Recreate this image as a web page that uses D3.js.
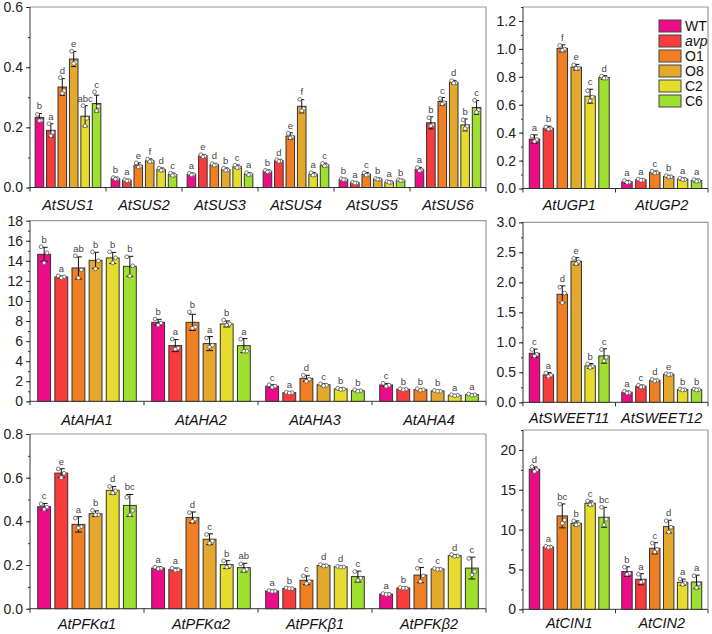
<!DOCTYPE html>
<html>
<head>
<meta charset="utf-8">
<script src="https://cdn.jsdelivr.net/npm/d3@7"></script>
<style>
  body { margin: 0; background: #fff; }
  svg { display: block; font-family: Arial, "Liberation Sans", sans-serif; }
</style>
</head>
<body>
<svg id="chart" width="712" height="634"></svg>
<script>
// Genotypes & colours
const lines = ["WT", "avp", "O1", "O8", "C2", "C6"];
const colors = ["#ec0c88", "#f83c3c", "#ef7f22", "#e4a92c", "#e6dc2e", "#9fe02f"];

// SUS panel
const susGenes = ["AtSUS1", "AtSUS2", "AtSUS3", "AtSUS4", "AtSUS5", "AtSUS6"];
const susMean = [
  [0.233, 0.190, 0.334, 0.427, 0.237, 0.279],
  [0.030, 0.024, 0.074, 0.089, 0.060, 0.043],
  [0.044, 0.105, 0.076, 0.060, 0.069, 0.045],
  [0.054, 0.089, 0.171, 0.270, 0.044, 0.075],
  [0.027, 0.016, 0.044, 0.028, 0.018, 0.024],
  [0.060, 0.215, 0.286, 0.350, 0.208, 0.266]
];
const susSd = [
  [0.013, 0.022, 0.028, 0.025, 0.035, 0.028],
  [0.004, 0.003, 0.008, 0.006, 0.005, 0.005],
  [0.004, 0.005, 0.004, 0.005, 0.006, 0.005],
  [0.004, 0.004, 0.011, 0.022, 0.006, 0.006],
  [0.003, 0.003, 0.006, 0.003, 0.003, 0.002],
  [0.007, 0.020, 0.013, 0.006, 0.020, 0.023]
];
const susLet = [
  ["b", "a", "d", "e", "abc", "c"],
  ["b", "a", "e", "f", "d", "c"],
  ["a", "e", "d", "b", "c", "a"],
  ["b", "d", "e", "f", "a", "c"],
  ["b", "a", "c", "b", "a", "b"],
  ["a", "b", "c", "d", "b", "c"]
];
const susDots = [
  [[0.243, 0.223, 0.222], [0.212, 0.183, 0.172], [0.365, 0.322, 0.313], [0.453, 0.416, 0.412], [0.272, 0.230, 0.205], [0.318, 0.270, 0.255]],
  [[0.033, 0.029, 0.028], [0.026, 0.023, 0.022], [0.082, 0.070, 0.068], [0.094, 0.087, 0.086], [0.064, 0.058, 0.057], [0.048, 0.041, 0.040]],
  [[0.047, 0.043, 0.042], [0.109, 0.104, 0.102], [0.079, 0.075, 0.074], [0.064, 0.058, 0.057], [0.074, 0.067, 0.066], [0.049, 0.044, 0.042]],
  [[0.057, 0.053, 0.052], [0.092, 0.088, 0.087], [0.180, 0.168, 0.165], [0.293, 0.262, 0.255], [0.049, 0.042, 0.041], [0.080, 0.073, 0.072]],
  [[0.029, 0.026, 0.026], [0.018, 0.015, 0.015], [0.049, 0.042, 0.041], [0.030, 0.027, 0.027], [0.020, 0.017, 0.017], [0.026, 0.023, 0.023]],
  [[0.066, 0.058, 0.056], [0.232, 0.208, 0.205], [0.296, 0.282, 0.278], [0.355, 0.348, 0.347], [0.225, 0.203, 0.196], [0.290, 0.258, 0.250]]
];

// UGP panel
const ugpGenes = ["AtUGP1", "AtUGP2"];
const ugpMean = [
  [0.354, 0.431, 1.004, 0.869, 0.661, 0.795],
  [0.048, 0.062, 0.115, 0.086, 0.067, 0.057]
];
const ugpSd = [
  [0.030, 0.015, 0.025, 0.020, 0.050, 0.013],
  [0.010, 0.006, 0.010, 0.008, 0.008, 0.010]
];
const ugpLet = [
  ["a", "b", "f", "e", "c", "d"],
  ["a", "a", "c", "b", "a", "a"]
];
const ugpDots = [
  [[0.375, 0.350, 0.337], [0.440, 0.428, 0.425], [1.025, 0.998, 0.990], [0.885, 0.862, 0.860], [0.700, 0.655, 0.628], [0.805, 0.790, 0.790]],
  [[0.056, 0.045, 0.043], [0.067, 0.060, 0.059], [0.123, 0.112, 0.110], [0.092, 0.084, 0.082], [0.073, 0.065, 0.063], [0.064, 0.055, 0.052]]
];

// AHA panel
const ahaGenes = ["AtAHA1", "AtAHA2", "AtAHA3", "AtAHA4"];
const ahaMean = [
  [14.65, 12.39, 13.29, 14.05, 14.29, 13.45],
  [7.87, 5.55, 7.87, 5.75, 7.71, 5.55],
  [1.50, 0.86, 2.29, 1.65, 1.23, 1.06],
  [1.63, 1.20, 1.16, 1.03, 0.60, 0.66]
];
const ahaSd = [
  [0.70, 0.10, 1.10, 0.80, 0.55, 1.00],
  [0.30, 0.60, 0.80, 0.70, 0.30, 0.70],
  [0.15, 0.05, 0.30, 0.10, 0.10, 0.10],
  [0.15, 0.05, 0.10, 0.05, 0.05, 0.06]
];
const ahaLet = [
  ["b", "a", "ab", "b", "b", "b"],
  ["b", "a", "b", "a", "b", "a"],
  ["c", "a", "d", "c", "b", "b"],
  ["c", "b", "b", "b", "a", "a"]
];
const ahaDots = [
  [[15.4, 14.8, 13.8], [12.5, 12.4, 12.3], [14.5, 13.1, 12.3], [14.9, 14.0, 13.2], [14.9, 14.3, 13.8], [14.4, 13.5, 12.5]],
  [[8.2, 7.8, 7.6], [6.2, 5.3, 5.2], [8.9, 7.4, 7.3], [6.3, 5.6, 5.4], [8.1, 7.7, 7.6], [6.2, 5.0, 5.0]],
  [[1.65, 1.50, 1.40], [0.90, 0.86, 0.83], [2.60, 2.20, 2.00], [1.75, 1.60, 1.55], [1.30, 1.22, 1.18], [1.15, 1.05, 1.00]],
  [[1.80, 1.60, 1.50], [1.25, 1.20, 1.15], [1.25, 1.15, 1.10], [1.08, 1.00, 1.00], [0.65, 0.60, 0.55], [0.72, 0.65, 0.60]]
];

// SWEET panel
const sweetGenes = ["AtSWEET11", "AtSWEET12"];
const sweetMean = [
  [0.817, 0.456, 1.80, 2.35, 0.606, 0.772],
  [0.167, 0.267, 0.367, 0.467, 0.211, 0.211]
];
const sweetSd = [
  [0.07, 0.04, 0.14, 0.06, 0.04, 0.12],
  [0.02, 0.02, 0.015, 0.01, 0.01, 0.01]
];
const sweetLet = [
  ["c", "a", "d", "e", "b", "c"],
  ["a", "c", "d", "e", "b", "b"]
];
const sweetDots = [
  [[0.88, 0.80, 0.77], [0.49, 0.45, 0.43], [1.92, 1.82, 1.66], [2.40, 2.34, 2.31], [0.64, 0.60, 0.58], [0.88, 0.75, 0.69]],
  [[0.185, 0.160, 0.155], [0.285, 0.260, 0.255], [0.380, 0.365, 0.355], [0.475, 0.465, 0.460], [0.220, 0.210, 0.205], [0.220, 0.210, 0.205]]
];

// PFK panel
const pfkGenes = ["AtPFKα1", "AtPFKα2", "AtPFKβ1", "AtPFKβ2"];
const pfkMean = [
  [0.467, 0.621, 0.386, 0.435, 0.542, 0.473],
  [0.186, 0.180, 0.418, 0.318, 0.202, 0.188],
  [0.081, 0.093, 0.130, 0.198, 0.192, 0.147],
  [0.067, 0.095, 0.154, 0.182, 0.243, 0.186]
];
const pfkSd = [
  [0.015, 0.020, 0.035, 0.013, 0.018, 0.050],
  [0.005, 0.006, 0.025, 0.025, 0.018, 0.020],
  [0.003, 0.003, 0.020, 0.005, 0.003, 0.025],
  [0.003, 0.003, 0.035, 0.003, 0.005, 0.050]
];
const pfkLet = [
  ["c", "e", "a", "b", "d", "bc"],
  ["a", "a", "d", "c", "b", "ab"],
  ["a", "b", "c", "d", "d", "c"],
  ["a", "b", "c", "c", "d", "c"]
];
const pfkDots = [
  [[0.480, 0.465, 0.455], [0.640, 0.620, 0.600], [0.415, 0.375, 0.370], [0.450, 0.430, 0.430], [0.560, 0.540, 0.530], [0.510, 0.450, 0.430]],
  [[0.190, 0.185, 0.183], [0.185, 0.178, 0.176], [0.440, 0.410, 0.400], [0.340, 0.310, 0.300], [0.220, 0.195, 0.190], [0.205, 0.180, 0.175]],
  [[0.083, 0.080, 0.079], [0.095, 0.092, 0.092], [0.150, 0.125, 0.115], [0.202, 0.197, 0.195], [0.194, 0.191, 0.190], [0.170, 0.140, 0.130]],
  [[0.069, 0.066, 0.065], [0.097, 0.094, 0.094], [0.185, 0.150, 0.125], [0.184, 0.181, 0.180], [0.248, 0.242, 0.240], [0.230, 0.170, 0.155]]
];

// CIN panel
const cinGenes = ["AtCIN1", "AtCIN2"];
const cinMean = [
  [17.57, 7.82, 11.72, 10.79, 13.30, 11.55],
  [4.73, 3.77, 7.66, 10.38, 3.39, 3.43]
];
const cinSd = [
  [0.30, 0.10, 1.50, 0.30, 0.30, 1.25],
  [0.60, 0.70, 0.70, 0.80, 0.40, 0.85]
];
const cinLet = [
  ["d", "a", "bc", "b", "c", "bc"],
  ["b", "a", "c", "d", "a", "a"]
];
const cinDots = [
  [[17.9, 17.5, 17.3], [7.9, 7.8, 7.75], [13.2, 11.2, 10.8], [11.1, 10.7, 10.6], [13.6, 13.2, 13.1], [12.8, 11.3, 10.6]],
  [[5.3, 4.5, 4.4], [4.4, 3.5, 3.4], [8.3, 7.5, 7.2], [11.1, 10.3, 9.7], [3.8, 3.3, 3.1], [4.2, 3.2, 2.7]]
];

const svg = d3.select("#chart");

const panels = [
  { genes: susGenes, mean: susMean, sd: susSd, lets: susLet, dots: susDots,
    x0: 30, x1: 486, top: 7, bottom: 187.5, max: 0.6, major: 0.2, minor: 0.1, fmt: d3.format(".1f"), labelY: 210 },
  { genes: ugpGenes, mean: ugpMean, sd: ugpSd, lets: ugpLet, dots: ugpDots,
    x0: 523, x1: 708, top: 7, bottom: 188.5, max: 1.3, major: 0.2, minor: 0.1, fmt: d3.format(".1f"), labelY: 210 },
  { genes: ahaGenes, mean: ahaMean, sd: ahaSd, lets: ahaLet, dots: ahaDots,
    x0: 30, x1: 486, top: 220.7, bottom: 401.3, max: 18, major: 2, minor: 1, fmt: d3.format("d"), labelY: 425 },
  { genes: sweetGenes, mean: sweetMean, sd: sweetSd, lets: sweetLet, dots: sweetDots,
    x0: 523, x1: 708, top: 222.3, bottom: 402.3, max: 3, major: 0.5, minor: 0.25, fmt: d3.format(".1f"), labelY: 423 },
  { genes: pfkGenes, mean: pfkMean, sd: pfkSd, lets: pfkLet, dots: pfkDots,
    x0: 30, x1: 486, top: 434, bottom: 608.7, max: 0.8, major: 0.2, minor: 0.1, fmt: d3.format(".1f"), labelY: 629 },
  { genes: cinGenes, mean: cinMean, sd: cinSd, lets: cinLet, dots: cinDots,
    x0: 523, x1: 708, top: 430, bottom: 609.3, max: 22.5, major: 5, minor: 2.5, fmt: d3.format("d"), labelY: 628 }
];

const dotOffsets = [-0.24, 0.22, 0.0];

panels.forEach(p => {
  const g = svg.append("g");
  const y = d3.scaleLinear().domain([0, p.max]).range([p.bottom, p.top]);
  const gx = d3.scaleBand().domain(p.genes).range([p.x0, p.x1]).padding(0);
  const bx = d3.scaleBand().domain(lines).range([0, gx.bandwidth()])
    .paddingInner(0.25).paddingOuter(0.45);
  const bw = bx.bandwidth();

  // frame (top/right)
  g.append("path")
    .attr("d", `M${p.x0},${p.top}H${p.x1}V${p.bottom}`)
    .attr("fill", "none").attr("stroke", "#999").attr("stroke-width", 1.2);

  // minor y ticks
  const minorTicks = d3.range(0, p.max + 1e-9, p.minor);
  g.append("g")
    .attr("transform", `translate(${p.x0},0)`)
    .call(d3.axisLeft(y).tickValues(minorTicks).tickSize(2).tickFormat(""))
    .call(a => a.select(".domain").remove())
    .call(a => a.selectAll("line").attr("stroke", "#333"));

  // major y ticks
  const majorTicks = d3.range(0, p.max + 1e-9, p.major);
  g.append("g")
    .attr("transform", `translate(${p.x0},0)`)
    .call(d3.axisLeft(y).tickValues(majorTicks).tickSize(4).tickPadding(3).tickFormat(p.fmt))
    .call(a => a.select(".domain").attr("d", `M0,${p.top}V${p.bottom}`).attr("stroke", "#333"))
    .call(a => a.selectAll("line").attr("stroke", "#333"))
    .call(a => a.selectAll("text").attr("font-size", 14).attr("fill", "#222")
      .attr("font-family", "Arial, 'Liberation Sans', sans-serif"));

  // x axis line + group boundary ticks
  g.append("line")
    .attr("x1", p.x0).attr("x2", p.x1).attr("y1", p.bottom).attr("y2", p.bottom)
    .attr("stroke", "#333").attr("stroke-width", 1);
  const bounds = p.genes.map(d => gx(d)).concat([p.x1]);
  g.selectAll(".bt").data(bounds).join("line")
    .attr("x1", d => d).attr("x2", d => d)
    .attr("y1", p.bottom).attr("y2", p.bottom + 4)
    .attr("stroke", "#333");

  // gene labels
  g.selectAll(".gl").data(p.genes).join("text")
    .attr("x", d => gx(d) + gx.bandwidth() / 2)
    .attr("y", p.labelY)
    .attr("text-anchor", "middle")
    .attr("font-size", 14.5)
    .attr("font-style", "italic")
    .attr("fill", "#111")
    .text(d => d);

  p.genes.forEach((gene, gi) => {
    const gg = g.append("g").attr("transform", `translate(${gx(gene)},0)`);
    lines.forEach((ln, li) => {
      const m = p.mean[gi][li], s = p.sd[gi][li];
      const x = bx(ln), cx = x + bw / 2;
      gg.append("rect")
        .attr("x", x).attr("y", y(m))
        .attr("width", bw).attr("height", y(0) - y(m))
        .attr("fill", colors[li])
        .attr("stroke", "#333").attr("stroke-width", 1);
      // error bar
      const cap = Math.min(bw * 0.6, 7) / 2;
      gg.append("path")
        .attr("d", `M${cx},${y(m - s)}V${y(m + s)}M${cx - cap},${y(m + s)}H${cx + cap}M${cx - cap},${y(m - s)}H${cx + cap}`)
        .attr("stroke", "#111").attr("stroke-width", 1).attr("fill", "none");
      // dots
      const ds = p.dots[gi][li];
      gg.selectAll(null).data(ds).join("circle")
        .attr("cx", (d, i) => cx + dotOffsets[i] * bw)
        .attr("cy", d => y(d))
        .attr("r", 1.9)
        .attr("fill", "#fff").attr("stroke", "#555").attr("stroke-width", 0.8);
      // significance letter
      const topY = Math.min(y(m + s), y(d3.max(ds)));
      gg.append("text")
        .attr("x", cx).attr("y", topY - 4)
        .attr("text-anchor", "middle")
        .attr("font-size", 9.5)
        .attr("fill", "#444")
        .text(p.lets[gi][li]);
    });
  });
});

// legend
const leg = svg.append("g").attr("transform", "translate(659,20)");
lines.forEach((ln, i) => {
  const r = leg.append("g").attr("transform", `translate(0,${i * 15})`);
  r.append("rect").attr("width", 22).attr("height", 12)
    .attr("fill", colors[i]).attr("stroke", "#444").attr("stroke-width", 1);
  r.append("text").attr("x", 26).attr("y", 11)
    .attr("font-size", 14).attr("fill", "#111")
    .attr("font-style", ln === "avp" ? "italic" : "normal")
    .text(ln);
});
</script>
</body>
</html>
